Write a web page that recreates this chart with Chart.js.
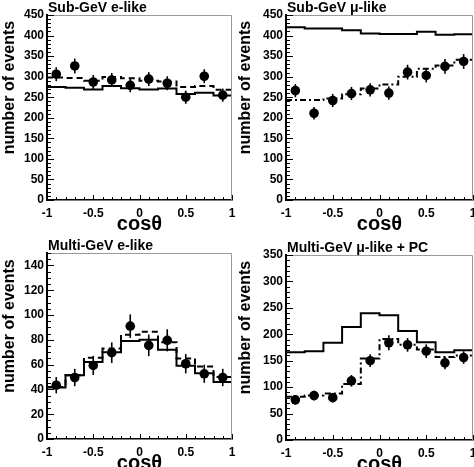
<!DOCTYPE html>
<html>
<head>
<meta charset="utf-8">
<script src="https://cdn.jsdelivr.net/npm/chart.js@4.4.0/dist/chart.umd.min.js"></script>
<style>
  html, body { margin: 0; padding: 0; background: #fff; }
  #wrap { position: relative; width: 474px; height: 467px; overflow: hidden; }
  canvas { position: absolute; }
</style>
</head>
<body>
<div id="wrap">
  <canvas id="c1" width="237" height="233" style="left:0;top:0"></canvas>
  <canvas id="c2" width="237" height="233" style="left:237px;top:0"></canvas>
  <canvas id="c3" width="237" height="234" style="left:0;top:233px"></canvas>
  <canvas id="c4" width="237" height="234" style="left:237px;top:233px"></canvas>
</div>
<script>
// zenith angle bins
const binEdges = [-1, -0.8, -0.6, -0.4, -0.2, 0, 0.2, 0.4, 0.6, 0.8, 1];
const binCenters = [-0.9, -0.7, -0.5, -0.3, -0.1, 0.1, 0.3, 0.5, 0.7, 0.9];
const xTicks = [-1, -0.5, 0, 0.5, 1];
const xTickLabels = ['-1', '-0.5', '0', '0.5', '1'];

// Sub-GeV e-like
const subEData = [306, 326, 287, 292, 279, 294, 284, 250, 301, 255];
const subEErr = [17, 18, 17, 17, 17, 17, 17, 16, 17, 16];
const subENoOsc = [275, 273, 269, 277, 272, 269, 271, 258, 261, 254];
const subEFit = [298, 297, 290, 299, 296, 290, 288, 275, 277, 268];

// Sub-GeV mu-like
const subMuData = [266, 211, 242, 259, 268, 260, 311, 303, 325, 337];
const subMuErr = [16, 15, 16, 16, 16, 16, 18, 17, 18, 18];
const subMuNoOsc = [420, 417, 417, 413, 405, 404, 404, 409, 402, 403];
const subMuFit = [243, 243, 247, 257, 271, 281, 300, 319, 327, 341];

// Multi-GeV e-like
const mgEData = [43.4, 49.6, 59.3, 69.6, 91, 75.5, 79.6, 60.7, 52.6, 49.6];
const mgEErr = [6.6, 7, 7.7, 8.3, 9.5, 8.7, 8.9, 7.8, 7.3, 7];
const mgENoOsc = [41.5, 51.5, 62, 70, 79, 80, 72, 59, 53, 46];
const mgEFit = [42, 51.5, 65.5, 73, 84, 86.5, 78, 65, 58.5, 50];

// Multi-GeV mu-like + PC
const mgMuData = [76, 84, 80, 112, 150, 184, 180, 168, 146, 156];
const mgMuErr = [9, 9, 9, 11, 12, 14, 13, 13, 12, 12];
const mgMuNoOsc = [166, 168, 184, 214, 240, 236, 206, 185, 166, 170];
const mgMuFit = [82, 84, 88, 106, 154, 191, 180, 171, 157, 160];

const FONT = "'Liberation Sans', Arial, Helvetica, sans-serif";

// histogram as step line: left edges + closing point at x=1
function histPoints(vals, drop) {
  const pts = vals.map((v, i) => ({ x: binEdges[i], y: v }));
  pts.push({ x: 1, y: vals[vals.length - 1] });
  if (drop) pts.push({ x: 1, y: 0 });
  return pts;
}

// error bars, inward ticks, frame and texts
const decor = {
  id: 'decor',
  afterDatasetsDraw(chart, args, o) {
    const { ctx, scales: { x, y } } = chart;
    ctx.save();
    ctx.strokeStyle = '#000';
    ctx.lineWidth = 1.6;
    o.values.forEach((v, i) => {
      const px = x.getPixelForValue(binCenters[i]);
      ctx.beginPath();
      ctx.moveTo(px, y.getPixelForValue(v - o.errors[i]));
      ctx.lineTo(px, y.getPixelForValue(v + o.errors[i]));
      ctx.stroke();
    });
    ctx.restore();
  },
  afterDraw(chart, args, o) {
    const { ctx, chartArea: a, scales: { x, y } } = chart;
    ctx.save();
    // top / right frame
    ctx.strokeStyle = '#999';
    ctx.lineWidth = 1;
    ctx.beginPath();
    ctx.moveTo(a.left, a.top + 0.5);
    ctx.lineTo(a.right - 0.5, a.top + 0.5);
    ctx.lineTo(a.right - 0.5, a.bottom);
    ctx.stroke();

    // inward ticks
    ctx.strokeStyle = '#000';
    ctx.lineWidth = 1;
    ctx.beginPath();
    const ny = Math.round((y.max - y.min) / o.yMinor);
    for (let k = 0; k <= ny; k++) {
      const v = y.min + k * o.yMinor;
      const major = Math.abs(v / o.yMajor - Math.round(v / o.yMajor)) < 1e-6;
      const py = Math.round(y.getPixelForValue(v)) + 0.5;
      ctx.moveTo(a.left, py);
      ctx.lineTo(a.left + (major ? 7 : 4), py);
    }
    for (let k = 0; k <= 20; k++) {
      const v = -1 + k * 0.1;
      const major = k % 5 === 0;
      const px = Math.round(x.getPixelForValue(v)) + 0.5;
      ctx.moveTo(px, a.bottom);
      ctx.lineTo(px, a.bottom - (major ? 5 : 3));
    }
    ctx.stroke();

    // texts
    ctx.fillStyle = '#000';
    ctx.textAlign = 'left';
    ctx.textBaseline = 'alphabetic';
    ctx.font = 'bold 14px ' + FONT;
    ctx.fillText(o.title, a.left + 1, a.top - 3);

    ctx.font = 'bold 20px ' + FONT;
    ctx.textAlign = 'center';
    ctx.fillText('cos\u03b8', (a.left + a.right) / 2, a.bottom + 30);

    ctx.translate(o.yTitleX, (a.top + a.bottom) / 2 - 20);
    ctx.rotate(-Math.PI / 2);
    ctx.textBaseline = 'middle';
    ctx.font = 'bold 16px ' + FONT;
    ctx.fillText('number of events', 0, 0);
    ctx.restore();
  }
};

function makePanel(id, cfg) {
  const canvas = document.getElementById(id);
  const H = canvas.height, W = canvas.width;
  return new Chart(canvas, {
    type: 'scatter',
    data: {
      datasets: [
        {
          type: 'line',
          data: histPoints(cfg.noOsc, true),
          stepped: 'before',
          borderColor: '#000',
          borderWidth: 2,
          pointRadius: 0,
          fill: false
        },
        {
          type: 'line',
          data: histPoints(cfg.fit, false),
          stepped: 'before',
          borderColor: '#000',
          borderWidth: 2,
          borderDash: cfg.dash,
          pointRadius: 0,
          fill: false
        },
        {
          type: 'scatter',
          data: cfg.values.map((v, i) => ({ x: binCenters[i], y: v })),
          pointRadius: 4.8,
          pointBackgroundColor: '#000',
          pointBorderColor: '#000',
          pointBorderWidth: 0
        }
      ]
    },
    options: {
      responsive: false,
      animation: false,
      events: [],
      layout: {
        autoPadding: false,
        padding: { left: 0, top: cfg.top, right: W - cfg.right, bottom: 0 }
      },
      plugins: {
        legend: { display: false },
        tooltip: { enabled: false },
        decor: {
          title: cfg.title,
          values: cfg.values,
          errors: cfg.errors,
          yMinor: cfg.yMinor,
          yMajor: cfg.yStep,
          yTitleX: cfg.yTitleX
        }
      },
      scales: {
        x: {
          type: 'linear',
          min: -1,
          max: 1,
          afterBuildTicks: s => { s.ticks = xTicks.map(v => ({ value: v })); },
          afterFit: s => { s.height = H - cfg.bottom; s.paddingLeft = 0; s.paddingRight = 0; },
          grid: { display: false, drawTicks: false },
          border: { display: true, color: '#000', width: 1.5 },
          ticks: {
            padding: 6, color: '#000', maxRotation: 0, autoSkip: false,
            font: { family: FONT, size: 12, weight: 'bold' },
            callback: (v, i) => xTickLabels[i]
          }
        },
        y: {
          min: 0,
          max: cfg.yMax,
          afterFit: s => { s.width = cfg.left; },
          grid: { display: false, drawTicks: false },
          border: { display: true, color: '#000', width: 2 },
          ticks: {
            stepSize: cfg.yStep, includeBounds: false, padding: 3, color: '#000',
            font: { family: FONT, size: 12, weight: 'bold' }
          }
        }
      }
    },
    plugins: [decor]
  });
}

makePanel('c1', {
  title: 'Sub-GeV e-like', values: subEData, errors: subEErr, noOsc: subENoOsc, fit: subEFit,
  dash: [6, 4], yMax: 450, yStep: 50, yMinor: 10,
  left: 47, right: 232, top: 15, bottom: 200, yTitleX: 10
});
makePanel('c2', {
  title: 'Sub-GeV \u03bc-like', values: subMuData, errors: subMuErr, noOsc: subMuNoOsc, fit: subMuFit,
  dash: [6, 3, 2, 3], yMax: 450, yStep: 50, yMinor: 10,
  left: 49, right: 236, top: 15, bottom: 200, yTitleX: 9
});
makePanel('c3', {
  title: 'Multi-GeV e-like', values: mgEData, errors: mgEErr, noOsc: mgENoOsc, fit: mgEFit,
  dash: [6, 4], yMax: 150, yStep: 20, yMinor: 5,
  left: 47, right: 232, top: 20, bottom: 206, yTitleX: 10
});
makePanel('c4', {
  title: 'Multi-GeV \u03bc-like + PC', values: mgMuData, errors: mgMuErr, noOsc: mgMuNoOsc, fit: mgMuFit,
  dash: [6, 3, 2, 3], yMax: 350, yStep: 50, yMinor: 10,
  left: 49, right: 236, top: 22, bottom: 207, yTitleX: 9
});
</script>
</body>
</html>
